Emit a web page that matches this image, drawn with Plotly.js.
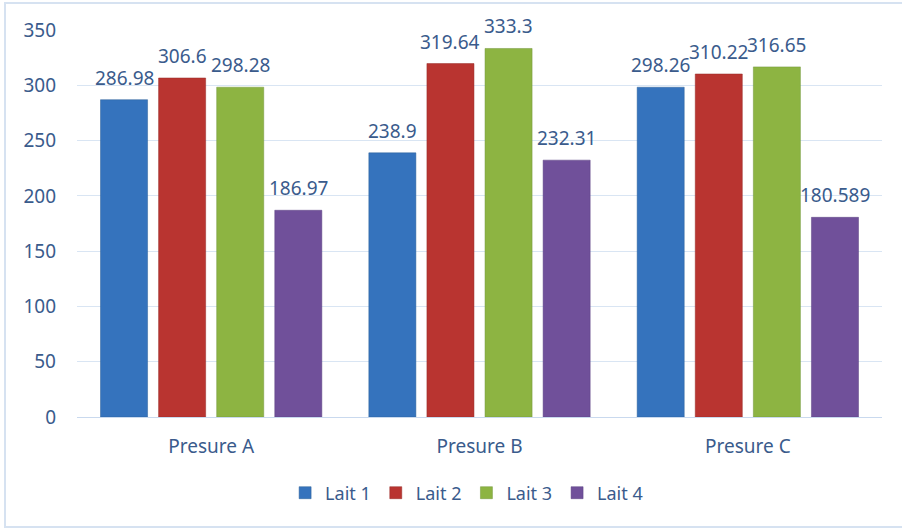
<!DOCTYPE html>
<html>
<head>
<meta charset="utf-8">
<script src="https://cdn.plot.ly/plotly-3.0.1.min.js"></script>
<style>
html,body{margin:0;padding:0;background:#fff;}
#chart{width:902px;height:529px;}
</style>
</head>
<body>
<div id="chart"></div>
<script>
const categories = ["Presure A", "Presure B", "Presure C"];
const seriesNames = ["Lait 1", "Lait 2", "Lait 3", "Lait 4"];
const lait1 = [286.98, 238.9, 298.26];
const lait2 = [306.6, 319.64, 310.22];
const lait3 = [298.28, 333.3, 316.65];
const lait4 = [186.97, 232.31, 180.589];
const labels1 = ["286.98", "238.9", "298.26"];
const labels2 = ["306.6", "319.64", "310.22"];
const labels3 = ["298.28", "333.3", "316.65"];
const labels4 = ["186.97", "232.31", "180.589"];
const yTicks = [0, 50, 100, 150, 200, 250, 300, 350];

const colors = ["#3573bd", "#b93430", "#8db442", "#70509a"];
const lineColors = ["#2d6099", "#962a27", "#73963a", "#5b4180"];
const textColor = "#3a5b8c";
const font = "Noto Sans, Liberation Sans, sans-serif";

const values = [lait1, lait2, lait3, lait4];
const labels = [labels1, labels2, labels3, labels4];
const bargap = 0.134;
const bargroupgap = 0.19;

const traces = values.map((v, i) => ({
  type: "bar",
  name: seriesNames[i],
  x: categories,
  y: v,
  marker: {color: colors[i], line: {color: lineColors[i], width: 0.5}},
  hoverinfo: "x+y+name"
}));

// data labels placed above each bar, using the category axis index
const annotations = [];
const nSeries = values.length;
values.forEach((v, j) => {
  v.forEach((val, c) => {
    annotations.push({
      xref: "x", yref: "y",
      x: c + ((j + 0.5) / nSeries - 0.5) * (1 - bargap),
      y: val,
      text: labels[j][c],
      showarrow: false,
      xanchor: "center",
      yanchor: "bottom",
      yshift: 7,
      font: {family: font, size: 19, color: textColor}
    });
  });
});

const layout = {
  width: 902,
  height: 529,
  margin: {l: 77, r: 20, t: 30, b: 112},
  paper_bgcolor: "#ffffff",
  plot_bgcolor: "#ffffff",
  barmode: "group",
  bargap: bargap,
  bargroupgap: bargroupgap,
  showlegend: true,
  legend: {
    orientation: "h",
    x: 0.484, xanchor: "center",
    y: (417 - 493) / 387, yanchor: "middle",
    font: {family: font, size: 18, color: textColor},
    itemwidth: 30,
    traceorder: "normal"
  },
  xaxis: {
    type: "category",
    tickfont: {family: font, size: 19, color: textColor},
    showline: false,
    ticks: "",
    showgrid: false,
    zeroline: false,
    ticklabelstandoff: 16,
    fixedrange: true
  },
  yaxis: {
    range: [0, 350],
    tickmode: "array",
    tickvals: yTicks,
    ticktext: yTicks.map(String),
    tickfont: {family: font, size: 19, color: textColor},
    showgrid: true,
    gridcolor: "#d9e5f3",
    gridwidth: 1,
    zeroline: true,
    zerolinecolor: "#c9d9ee",
    zerolinewidth: 1,
    showline: false,
    ticks: "",
    ticklabelstandoff: 20,
    fixedrange: true
  },
  annotations: annotations,
  shapes: [{
    type: "rect",
    xref: "paper", yref: "paper",
    x0: (5 - 77) / 805, x1: (940 - 77) / 805,
    y0: (417 - 527) / 387, y1: (417 - 3) / 387,
    line: {color: "#d6e2f1", width: 2},
    fillcolor: "rgba(0,0,0,0)",
    layer: "below"
  }]
};

Plotly.newPlot("chart", traces, layout, {displayModeBar: false, staticPlot: true});
</script>
</body>
</html>
